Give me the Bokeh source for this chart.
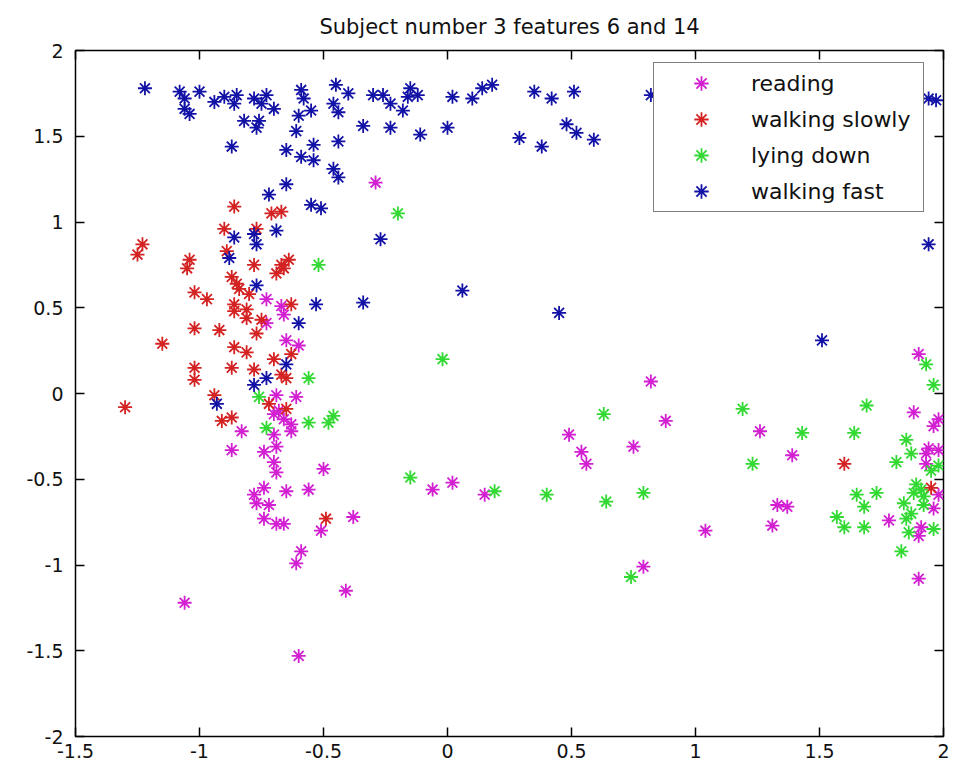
from bokeh.plotting import figure
from bokeh.models import Range1d, FixedTicker, LinearAxis, Legend, LegendItem
from bokeh.embed import file_html
from bokeh.resources import INLINE

# ---- data: feature 6 (x) vs feature 14 (y) per activity ----
reading_x = [-0.29, -0.73, -0.67, -0.66, -0.73, -0.65, -0.60, -0.69, -0.61, -0.68,
             -0.66, -0.70, -0.63, -0.83, -0.70, -0.63, -0.87, -0.74, -0.69, -0.70,
             -0.69, -0.50, -0.74, -0.78, -0.77, -0.72, -0.65, -0.56, -0.74, -0.69,
             -0.66, -0.51, -0.38, -0.59, -0.61, -0.41, -1.06, -0.60, -0.06, 0.02,
             0.15, 0.49, 0.54, 0.56, 0.75, 0.79, 0.82, 0.88, 1.26, 1.39,
             1.33, 1.37, 1.31, 1.04, 1.78, 1.90, 1.90, 1.88, 1.96, 1.98,
             1.94, 1.98, 1.93, 1.93, 1.98, 1.96, 1.91, 1.90]
reading_y = [1.23, 0.55, 0.51, 0.46, 0.41, 0.31, 0.28, -0.01, -0.02, -0.10,
             -0.15, -0.12, -0.18, -0.22, -0.24, -0.22, -0.33, -0.34, -0.31, -0.40,
             -0.46, -0.44, -0.55, -0.59, -0.64, -0.65, -0.57, -0.56, -0.73, -0.76,
             -0.76, -0.80, -0.72, -0.92, -0.99, -1.15, -1.22, -1.53, -0.56, -0.52,
             -0.59, -0.24, -0.34, -0.41, -0.31, -1.01, 0.07, -0.16, -0.22, -0.36,
             -0.65, -0.66, -0.77, -0.80, -0.74, -1.08, 0.23, -0.11, -0.19, -0.15,
             -0.32, -0.33, -0.35, -0.41, -0.59, -0.67, -0.78, -0.83]

slow_x = [-0.86, -0.71, -0.67, -0.90, -0.77, -1.23, -1.25, -1.04, -1.05, -0.89,
          -0.78, -0.67, -0.69, -0.64, -0.66, -0.87, -0.85, -0.84, -0.80, -1.02,
          -0.97, -0.86, -0.86, -0.81, -0.81, -0.63, -0.75, -1.02, -0.92, -0.77,
          -1.15, -0.86, -0.81, -0.70, -0.63, -1.02, -1.02, -0.87, -0.78, -0.67,
          -0.65, -0.94, -1.30, -0.72, -0.65, -0.91, -0.87, -0.49, 1.60, 1.95]
slow_y = [1.09, 1.05, 1.06, 0.96, 0.96, 0.87, 0.81, 0.78, 0.73, 0.83,
          0.75, 0.75, 0.70, 0.78, 0.73, 0.68, 0.64, 0.61, 0.58, 0.59,
          0.55, 0.52, 0.48, 0.49, 0.44, 0.52, 0.43, 0.38, 0.37, 0.35,
          0.29, 0.27, 0.24, 0.20, 0.23, 0.15, 0.08, 0.15, 0.14, 0.11,
          0.09, -0.01, -0.08, -0.06, -0.09, -0.16, -0.14, -0.73, -0.41, -0.55]

lying_x = [-0.20, -0.52, -0.56, -0.76, -0.56, -0.48, -0.46, -0.73, -0.02, 0.63,
           -0.15, 0.19, 0.40, 0.64, 0.79, 0.74, 1.19, 1.69, 1.43, 1.64,
           1.23, 1.93, 1.96, 1.85, 1.87, 1.81, 1.73, 1.68, 1.68, 1.89,
           1.91, 1.88, 1.92, 1.84, 1.87, 1.85, 1.86, 1.96, 1.83, 1.95,
           1.98, 1.92, 1.57, 1.60, 1.65]
lying_y = [1.05, 0.75, 0.09, -0.02, -0.17, -0.17, -0.13, -0.20, 0.20, -0.12,
           -0.49, -0.57, -0.59, -0.63, -0.58, -1.07, -0.09, -0.07, -0.23, -0.23,
           -0.41, 0.17, 0.05, -0.27, -0.35, -0.40, -0.58, -0.66, -0.78, -0.53,
           -0.56, -0.58, -0.60, -0.64, -0.70, -0.73, -0.81, -0.79, -0.92, -0.45,
           -0.42, -0.65, -0.72, -0.78, -0.59]

fast_x = [-1.22, -1.08, -1.06, -1.00, -1.06, -1.04, -0.94, -0.90, -0.86, -0.85,
          -0.78, -0.75, -0.73, -0.70, -0.82, -0.76, -0.77, -0.59, -0.58, -0.55,
          -0.60, -0.61, -0.45, -0.40, -0.46, -0.44, -0.34, -0.87, -0.65, -0.54,
          -0.59, -0.54, -0.44, -0.46, -0.44, -0.65, -0.72, -0.55, -0.51, -0.69,
          -0.86, -0.78, -0.77, -0.30, -0.26, -0.23, -0.15, -0.16, -0.12, -0.18,
          0.02, 0.10, 0.14, 0.18, 0.35, 0.42, 0.51, -0.23, -0.11, 0.00,
          0.29, 0.38, 0.48, 0.52, 0.59, -0.27, 0.82, 1.94, 1.97, 1.94,
          -0.88, -0.77, -0.53, -0.34, -0.60, -0.65, -0.73, -0.78, -0.93, 0.06,
          0.45, 1.51]
fast_y = [1.78, 1.76, 1.72, 1.76, 1.66, 1.63, 1.70, 1.73, 1.69, 1.74,
          1.72, 1.69, 1.74, 1.66, 1.59, 1.59, 1.55, 1.77, 1.72, 1.65,
          1.62, 1.53, 1.80, 1.75, 1.69, 1.64, 1.56, 1.44, 1.42, 1.45,
          1.38, 1.36, 1.47, 1.31, 1.26, 1.22, 1.16, 1.10, 1.08, 0.95,
          0.91, 0.93, 0.87, 1.74, 1.74, 1.69, 1.78, 1.73, 1.74, 1.65,
          1.73, 1.72, 1.78, 1.80, 1.76, 1.72, 1.76, 1.55, 1.51, 1.55,
          1.49, 1.44, 1.57, 1.52, 1.48, 0.90, 1.74, 1.72, 1.71, 0.87,
          0.79, 0.63, 0.52, 0.53, 0.41, 0.17, 0.09, 0.05, -0.06, 0.60,
          0.47, 0.31]

series_names = ["reading", "walking slowly", "lying down", "walking fast"]
series_colors = ["#d21fd2", "#d42222", "#33d933", "#1212a6"]

x_ticks = [-1.5, -1, -0.5, 0, 0.5, 1, 1.5, 2]
x_tick_labels = ["-1.5", "-1", "-0.5", "0", "0.5", "1", "1.5", "2"]
y_ticks = [-2, -1.5, -1, -0.5, 0, 0.5, 1, 1.5, 2]
y_tick_labels = ["-2", "-1.5", "-1", "-0.5", "0", "0.5", "1", "1.5", "2"]

TITLE = "Subject number 3 features 6 and 14"
FONT = "DejaVu Sans"

p = figure(width=954, height=766, output_backend="svg", toolbar_location=None,
           x_range=Range1d(-1.5, 2), y_range=Range1d(-2, 2),
           min_border_left=75, min_border_right=11, min_border_top=48,
           min_border_bottom=30, title=TITLE)

p.title.align = "center"
p.title.text_font = FONT
p.title.text_font_size = "21px"
p.title.text_font_style = "normal"
p.title.text_color = "#111111"
p.title.standoff = 24

p.background_fill_color = "white"
p.border_fill_color = "white"
p.outline_line_color = "black"
p.outline_line_width = 1.5
p.xgrid.visible = False
p.ygrid.visible = False

# ticks pointing inward on all four sides, labels only bottom/left
def style_axis(ax, ticks, labels, show_labels):
    ax.ticker = FixedTicker(ticks=ticks)
    ax.axis_line_color = None
    ax.major_tick_in = 9
    ax.major_tick_out = 0
    ax.major_tick_line_color = "black"
    ax.major_tick_line_width = 1.5
    ax.minor_tick_line_color = None
    ax.major_label_text_font = FONT
    ax.major_label_text_font_size = "19px"
    ax.major_label_text_color = "#111111"
    if show_labels:
        ax.major_label_overrides = {t: l for t, l in zip(ticks, labels)}
    else:
        ax.major_label_overrides = {t: "" for t in ticks}
        ax.major_label_text_font_size = "0px"
        ax.major_label_standoff = 0

style_axis(p.xaxis[0], x_ticks, x_tick_labels, True)
style_axis(p.yaxis[0], y_ticks, y_tick_labels, True)
p.xaxis[0].major_label_standoff = 7
p.yaxis[0].major_label_standoff = 12

top_axis = LinearAxis()
right_axis = LinearAxis()
style_axis(top_axis, x_ticks, x_tick_labels, False)
style_axis(right_axis, y_ticks, y_tick_labels, False)
p.add_layout(top_axis, "above")
p.add_layout(right_axis, "right")

xs = [reading_x, slow_x, lying_x, fast_x]
ys = [reading_y, slow_y, lying_y, fast_y]
items = []
for name, color, x, y in zip(series_names, series_colors, xs, ys):
    r = p.scatter(x, y, marker="asterisk", size=14, line_color=color,
                  line_width=1.8)
    items.append(LegendItem(label=name, renderers=[r]))

legend = Legend(items=items, location=(578, 524))
legend.label_text_font = FONT
legend.label_text_font_size = "22px"
legend.label_text_color = "#111111"
legend.label_height = 36
legend.glyph_height = 36
legend.glyph_width = 90
legend.label_standoff = 5
legend.label_width = 170
legend.padding = 2
legend.spacing = 0
legend.margin = 0
legend.border_line_color = "black"
legend.border_line_width = 1.5
legend.background_fill_color = "white"
legend.background_fill_alpha = 1.0
p.add_layout(legend, "center")

open("out.html", "w").write(file_html(p, INLINE))
